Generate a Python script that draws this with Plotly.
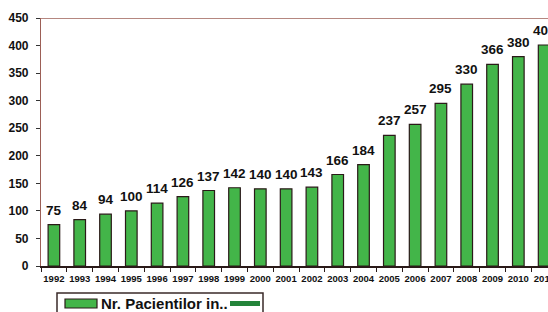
import plotly.graph_objects as go

years = [str(y) for y in range(1992, 2012)]
patients = [75, 84, 94, 100, 114, 126, 137, 142, 140, 140, 143, 166, 184, 237, 257, 295, 330, 366, 380, 401]
series_name = "Nr. Pacientilor in.."
y_ticks = [0, 50, 100, 150, 200, 250, 300, 350, 400, 450]

W, H = 548, 312
L, R, T, B = 41, 0, 18, 46
PW, PH = W - L - R, H - T - B

def px(x):
    return (x - L) / PW

def py(y):
    return (H - B - y) / PH

font = "Arial, Liberation Sans, sans-serif"
green = "#43b549"
outline = "#2a1a18"
brown = "#9c5f56"

fig = go.Figure()
fig.add_trace(go.Bar(
    x=years, y=patients, width=0.45,
    marker=dict(color=green, line=dict(color=outline, width=1.2)),
    cliponaxis=True, showlegend=False, hoverinfo="x+y",
))

value_labels = [
    dict(x=i, y=v, xref="x", yref="y", text=str(v), showarrow=False,
         xanchor="center", yanchor="bottom", yshift=5,
         font=dict(family=font, size=13.5, color="#111111", weight="bold"))
    for i, v in enumerate(patients)
]

fig.update_layout(
    width=W, height=H,
    margin=dict(l=L, r=R, t=T, b=B, pad=0, autoexpand=False),
    paper_bgcolor="white", plot_bgcolor="white",
    xaxis=dict(
        type="category", range=[-0.5, 19.15], showgrid=False,
        showline=True, linecolor=outline, linewidth=1.5,
        ticks="outside", ticklen=4, tickcolor=outline, tickson="boundaries",
        tickangle=0, ticklabelstandoff=3,
        tickfont=dict(family=font, size=9.5, color="#111111", weight="bold"),
        fixedrange=True, automargin=False,
    ),
    yaxis=dict(
        range=[0, 450], tickvals=y_ticks, showgrid=False, zeroline=False,
        showline=True, linecolor=brown, linewidth=1.2,
        ticks="outside", ticklen=4, tickcolor="#333333",
        tickfont=dict(family=font, size=12, color="#111111", weight="bold"),
        ticklabelstandoff=5, automargin=False, fixedrange=True,
    ),
    shapes=[
        dict(type="line", xref="paper", yref="y", x0=0, x1=1, y0=450, y1=450,
             line=dict(color=brown, width=1.5)),
        dict(type="rect", xref="paper", yref="paper", x0=px(57), x1=px(263), y0=py(293), y1=py(330),
             line=dict(color="#3a2a28", width=1.5), fillcolor="white"),
        dict(type="rect", xref="paper", yref="paper", x0=px(65), x1=px(97), y0=py(299), y1=py(308),
             line=dict(color=outline, width=1.2), fillcolor=green),
        dict(type="line", xref="paper", yref="paper", x0=px(230), x1=px(260), y0=py(303.5), y1=py(303.5),
             line=dict(color="#23843a", width=5)),
    ],
    annotations=value_labels + [
        dict(text=series_name, xref="paper", yref="paper", x=px(99), y=py(303.5),
             xanchor="left", yanchor="middle", showarrow=False,
             font=dict(family=font, size=15, color="#111111", weight="bold")),
    ],
)

fig.write_html("out.html", config={"displayModeBar": False},
               post_script="document.body.style.margin='0px';document.body.style.overflow='hidden';")
